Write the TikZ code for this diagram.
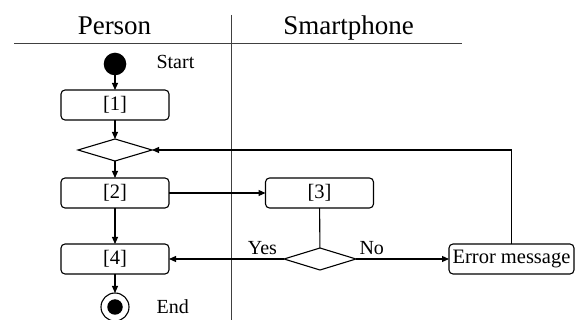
\documentclass[tikz,border=0pt]{standalone}
\usepackage{fontspec}
\setmainfont{Liberation Serif}
\usetikzlibrary{arrows.meta,shapes.geometric}
\begin{document}
\begin{tikzpicture}[x=1pt,y=-1pt,line width=1.1pt,
  act/.style={draw, rounded corners=4pt, minimum width=108pt, minimum height=30pt, inner sep=0pt, outer sep=0pt, font=\fontsize{20.5}{24}\selectfont},
  dec/.style={draw, diamond, minimum width=74pt, minimum height=22pt, inner sep=0pt, outer sep=0pt},
  arr/.style={-{Triangle[length=7pt,width=6pt]}},
  lbl/.style={inner sep=0pt, anchor=base west, font=\fontsize{20}{24}\selectfont},
  head/.style={inner sep=0pt, anchor=base, font=\fontsize{27}{30}\selectfont},
  lane/.style={line width=0.9pt, black!75}]
\useasboundingbox (0,0) rectangle (581,320);
% swimlanes
\node[head] (hp) at (114.5,35) {Person};
\node[head] (hs) at (348.7,35) {Smartphone};
\draw[lane] (14,43.3) -- (462,43.3);
\draw[lane] (231.7,15) -- (231.7,320);
% nodes
\node[circle, fill, minimum size=22.6pt, inner sep=0pt, outer sep=0pt] (start) at (115,64) {};
\node[lbl] (ls) at (156,69) {Start};
\node[act] (a1) at (115,105) {[1]};
\node[dec] (d1) at (115,150) {};
\node[act] (a2) at (115,193) {[2]};
\node[act] (a3) at (319.5,193) {[3]};
\node[act] (a4) at (115,259) {[4]};
\node[dec, minimum width=72pt] (d2) at (320,259) {};
\node[act, minimum width=125pt] (err) at (511.5,259) {Error message};
\node[circle, draw, minimum size=28pt, inner sep=0pt, outer sep=0pt] (end) at (115,307) {};
\node[circle, fill, minimum size=15.5pt, inner sep=0pt] (endin) at (end.center) {};
\node[lbl] (le) at (156,314) {End};
% connectors
\draw[arr] (start) -- (a1);
\draw[arr] (a1) -- (d1);
\draw[arr] (d1) -- (a2);
\draw[arr] (a2) -- (a3);
\draw[arr] (a2) -- (a4);
\draw (a3) -- (d2);
\draw[arr] (d2.west) -- (a4.east);
\draw[arr] (d2.east) -- (err.west);
\draw[arr] (err.north) |- (d1.east);
\draw[arr] (a4) -- (end);
\node[lbl] (ly) at (247.3,255) {Yes};
\node[lbl] (ln) at (359,255) {No};
\end{tikzpicture}
\end{document}
